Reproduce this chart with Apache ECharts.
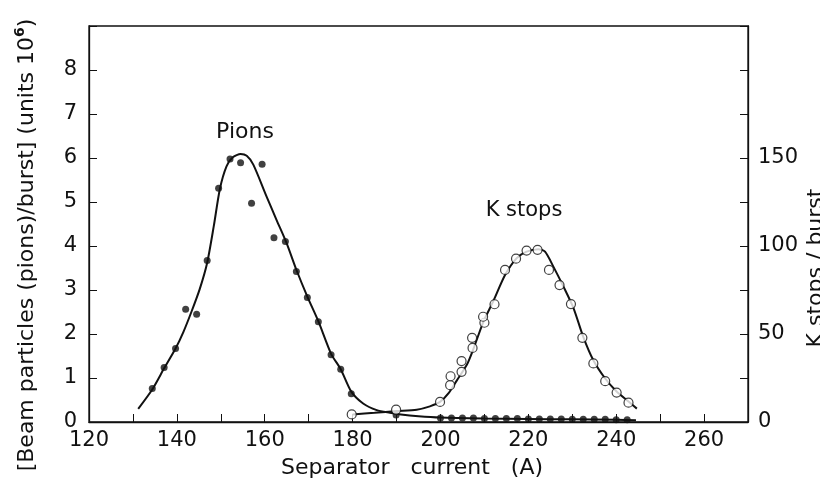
<!DOCTYPE html>
<html>
<head>
<meta charset="utf-8">
<script src="https://cdn.jsdelivr.net/npm/echarts@6/dist/echarts.min.js"></script>
<style>
  html, body { margin: 0; padding: 0; background: #ffffff; }
  #chart { width: 820px; height: 489px; }
</style>
</head>
<body>
<div id="chart"></div>
<script>
// Measured pion flux (units 10^6 per burst) against separator current (A)
const pionCurrent = [134.4, 137.1, 139.7, 142.0, 144.5, 146.9, 149.5, 152.1, 154.5, 157.0,
  159.4, 162.1, 164.7, 167.2, 169.7, 172.2, 175.1, 177.3, 179.7, 189.9,
  200.0, 202.5, 205.0, 207.5, 210.0, 212.5, 215.0, 217.5, 220.0, 222.5,
  225.0, 227.5, 230.0, 232.5, 235.0, 237.5, 240.0, 242.5];
const pionFlux = [0.76, 1.24, 1.67, 2.56, 2.45, 3.67, 5.31, 5.98, 5.89, 4.97,
  5.86, 4.19, 4.10, 3.42, 2.83, 2.28, 1.53, 1.20, 0.64, 0.16,
  0.09, 0.09, 0.09, 0.09, 0.08, 0.08, 0.08, 0.08, 0.07, 0.07,
  0.07, 0.07, 0.06, 0.06, 0.06, 0.06, 0.05, 0.05];

// Fitted pion curve
const pionFitCurrent = [131.2, 134.4, 137.1, 139.7, 141.5, 143.3, 145.2, 146.9, 148.4, 149.8,
  151.3, 152.8, 154.5, 155.9, 157.4, 160.4, 162.7, 165.0, 167.2, 169.7,
  172.2, 175.1, 177.3, 179.7, 182.4, 185.5, 188.5, 191.0, 195.0, 200.0,
  210.0, 220.0, 230.0, 240.0, 244.5];
const pionFitFlux = [0.30, 0.74, 1.22, 1.67, 2.05, 2.50, 3.02, 3.62, 4.45, 5.30,
  5.81, 6.02, 6.09, 6.05, 5.85, 5.13, 4.59, 4.06, 3.46, 2.85,
  2.29, 1.55, 1.20, 0.69, 0.42, 0.27, 0.21, 0.17, 0.13, 0.10,
  0.08, 0.07, 0.06, 0.05, 0.04];

// Measured K stops per burst
const kCurrent = [179.8, 189.9, 199.9, 202.2, 202.3, 204.8, 204.8, 207.3, 207.2, 210.0,
  209.7, 212.3, 214.7, 217.2, 219.6, 222.1, 224.7, 227.1, 229.7, 232.3,
  234.8, 237.5, 240.1, 242.8];
const kStops = [4.3, 7.0, 11.4, 20.9, 26.0, 28.5, 34.6, 42.1, 47.8, 56.4,
  59.8, 66.9, 86.4, 92.8, 97.4, 97.8, 86.4, 77.8, 67.0, 47.8,
  33.3, 23.2, 16.7, 11.0];

// Fitted K-stop curve
const kFitCurrent = [180.0, 185.0, 190.0, 194.6, 197.6, 199.9, 201.8, 203.7, 206.0, 207.5,
  209.7, 212.0, 214.7, 217.3, 219.6, 222.3, 223.8, 225.7, 228.0, 230.3,
  232.5, 234.8, 237.5, 240.1, 242.8, 244.7];
const kFitStops = [4.3, 5.2, 6.2, 7.0, 8.9, 11.4, 16.2, 23.5, 32.5, 41.5,
  56.5, 68.5, 83.5, 93.0, 96.8, 98.2, 96.8, 88.3, 76.9, 64.6,
  48.4, 35.1, 24.7, 17.3, 11.6, 7.6];

// Axis tick labels
const currentLabels = [120, 140, 160, 180, 200, 220, 240, 260];
const fluxLabels = [0, 1, 2, 3, 4, 5, 6, 7, 8];
const kLabels = [0, 50, 100, 150];

const pair = (xs, ys) => xs.map((x, i) => [x, ys[i]]);

const ink = '#111111';
const fontFamily = 'DejaVu Sans';

const chart = echarts.init(document.getElementById('chart'), null, { renderer: 'canvas' });

chart.setOption({
  backgroundColor: '#ffffff',
  animation: false,
  grid: {
    left: 89, right: 72, top: 26, bottom: 67,
    show: true, borderColor: ink, borderWidth: 1.3
  },
  xAxis: {
    type: 'value', min: 120, max: 270, interval: 10,
    axisLine: { show: true, lineStyle: { color: ink, width: 1.3 } },
    axisTick: { show: true, inside: true, length: 8, lineStyle: { color: ink, width: 1 } },
    splitLine: { show: false },
    axisLabel: {
      color: ink, fontFamily, fontSize: 21, margin: 8,
      formatter: v => currentLabels.includes(v) ? String(v) : ''
    }
  },
  yAxis: [
    {
      type: 'value', min: 0, max: 9, interval: 1,
      axisLine: { show: true, lineStyle: { color: ink, width: 1.3 } },
      axisTick: { show: true, inside: true, length: 8, lineStyle: { color: ink, width: 1 } },
      splitLine: { show: false },
      axisLabel: {
        color: ink, fontFamily, fontSize: 21, margin: 12,
        formatter: v => fluxLabels.includes(v) ? String(v) : ''
      }
    },
    {
      type: 'value', min: 0, max: 225, interval: 25, position: 'right',
      axisLine: { show: true, lineStyle: { color: ink, width: 1.3 } },
      axisTick: { show: true, inside: true, length: 8, lineStyle: { color: ink, width: 1 } },
      splitLine: { show: false },
      axisLabel: {
        color: ink, fontFamily, fontSize: 21, margin: 10,
        formatter: v => kLabels.includes(v) ? String(v) : ''
      }
    }
  ],
  series: [
    {
      name: 'Pion fit', type: 'line', yAxisIndex: 0,
      data: pair(pionFitCurrent, pionFitFlux),
      smooth: 0.25, showSymbol: false,
      lineStyle: { color: ink, width: 2 }, z: 2
    },
    {
      name: 'K fit', type: 'line', yAxisIndex: 1,
      data: pair(kFitCurrent, kFitStops),
      smooth: 0.25, showSymbol: false,
      lineStyle: { color: ink, width: 2 }, z: 2
    },
    {
      name: 'Pions', type: 'scatter', yAxisIndex: 0,
      data: pair(pionCurrent, pionFlux),
      symbol: 'circle', symbolSize: 7,
      itemStyle: { color: ink }, z: 4
    },
    {
      name: 'K stops', type: 'scatter', yAxisIndex: 1,
      data: pair(kCurrent, kStops),
      symbol: 'circle', symbolSize: 9,
      itemStyle: { color: '#ffffff', borderColor: ink, borderWidth: 1.2 }, z: 5
    }
  ],
  graphic: [
    {
      type: 'text', x: 245, y: 132,
      style: { text: 'Pions', fill: ink, font: '22px "DejaVu Sans"', textAlign: 'center', textVerticalAlign: 'middle' }
    },
    {
      type: 'text', x: 524, y: 211,
      style: { text: 'K stops', fill: ink, font: '21px "DejaVu Sans"', textAlign: 'center', textVerticalAlign: 'middle' }
    },
    {
      type: 'text', x: 412, y: 468,
      style: { text: 'Separator   current   (A)', fill: ink, font: '22px "DejaVu Sans"', textAlign: 'center', textVerticalAlign: 'middle' }
    },
    {
      type: 'text', x: 27, y: 245, rotation: Math.PI / 2,
      style: {
        text: '{m|[Beam particles (pions)/burst] (units 10}{s|6}{m|)}',
        fill: ink, textAlign: 'center', textVerticalAlign: 'middle',
        rich: {
          m: { fontFamily, fontSize: 22, lineHeight: 28, fill: ink },
          s: { fontFamily, fontSize: 14, fontWeight: 'bold', lineHeight: 28, verticalAlign: 'top', fill: ink }
        }
      }
    },
    {
      type: 'text', x: 816, y: 268, rotation: Math.PI / 2,
      style: { text: 'K stops / burst', fill: ink, font: '22px "DejaVu Sans"', textAlign: 'center', textVerticalAlign: 'middle' }
    }
  ]
});
</script>
</body>
</html>
